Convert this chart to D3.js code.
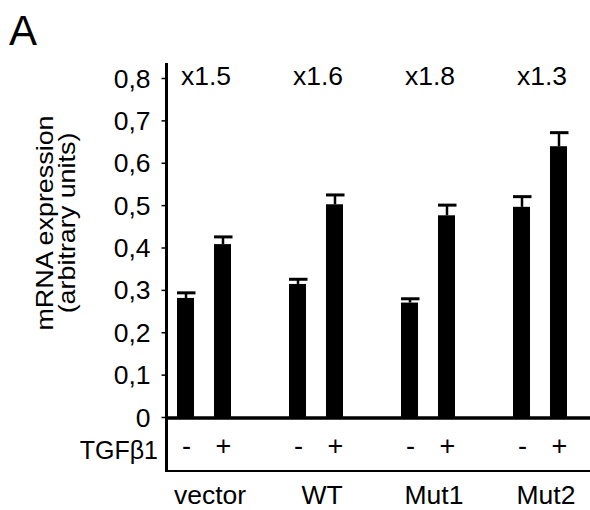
<!DOCTYPE html>
<html>
<head>
<meta charset="utf-8">
<script src="https://cdn.jsdelivr.net/npm/d3@7"></script>
<style>
  body { margin: 0; background: #fff; }
  svg { display: block; }
  text { font-family: "Liberation Sans", Arial, sans-serif; fill: #000; }
</style>
</head>
<body>
<svg id="chart" width="590" height="510"></svg>
<script>
/*
Data
*/
var groups = ["vector", "WT", "Mut1", "Mut2"];
var treatments = ["-", "+"];
var minusVals = [0.281, 0.314, 0.270, 0.496];
var plusVals = [0.408, 0.502, 0.476, 0.639];
var minusErr = [0.012, 0.011, 0.009, 0.024];
var plusErr = [0.017, 0.022, 0.024, 0.032];
var foldLabels = ["x1.5", "x1.6", "x1.8", "x1.3"];
var yTicks = [0, 0.1, 0.2, 0.3, 0.4, 0.5, 0.6, 0.7, 0.8];

/*
Layout
*/
var svg = d3.select("#chart");
var axisX = 166.5;
var zeroY = 417;
var tgfY = 471;
var fontSize = 25;

var y = d3.scaleLinear().domain([0, 0.8]).range([zeroY, 78]);
var xGroup = d3.scaleBand().domain(groups).range([148, 596]);
var xSub = d3.scalePoint().domain(treatments).range([37.5, 74.5]);
var barWidth = 17;

// widen glyphs a little, the source font runs wider than Liberation Sans
function widen(sel, k){
  sel.each(function(){
    var len = this.getComputedTextLength();
    d3.select(this).attr("textLength", len * k).attr("lengthAdjust", "spacingAndGlyphs");
  });
}

// rows of bars built from the arrays
var rows = [];
groups.forEach(function(g, i){
  rows.push({group: g, t: "-", value: minusVals[i], err: minusErr[i]});
  rows.push({group: g, t: "+", value: plusVals[i], err: plusErr[i]});
});
function cx(d){ return xGroup(d.group) + xSub(d.t); }

/*
Y axis
*/
var yAxis = d3.axisLeft(y)
  .tickValues(yTicks)
  .tickSize(5)
  .tickPadding(11)
  .tickFormat(function(d){ return d === 0 ? "0" : d3.format(".1f")(d).replace(".", ","); });

var ax = svg.append("g")
  .attr("transform", "translate(" + axisX + ",0)")
  .call(yAxis);
ax.select(".domain").remove();
ax.selectAll(".tick line").attr("stroke", "#000").attr("stroke-width", 1.5);
ax.selectAll(".tick text")
  .attr("font-size", fontSize)
  .attr("font-family", "Liberation Sans, Arial, sans-serif")
  .attr("dy", "0.36em")
  .call(widen, 1.06);

// axis lines
svg.append("line")
  .attr("x1", axisX).attr("x2", axisX)
  .attr("y1", 63).attr("y2", tgfY + 1)
  .attr("stroke", "#000").attr("stroke-width", 3);
svg.append("line")
  .attr("x1", axisX - 1.5).attr("x2", 590)
  .attr("y1", zeroY + 1).attr("y2", zeroY + 1)
  .attr("stroke", "#000").attr("stroke-width", 3.5);
svg.append("line")
  .attr("x1", axisX - 1.5).attr("x2", 590)
  .attr("y1", tgfY).attr("y2", tgfY)
  .attr("stroke", "#000").attr("stroke-width", 2);

/*
Bars and error bars
*/
svg.selectAll("rect.bar")
  .data(rows)
  .enter()
  .append("rect")
  .attr("class", "bar")
  .attr("x", function(d){ return cx(d) - barWidth / 2; })
  .attr("width", barWidth)
  .attr("y", function(d){ return y(d.value); })
  .attr("height", function(d){ return zeroY - y(d.value); })
  .attr("fill", "#000");

var err = svg.selectAll("g.err")
  .data(rows)
  .enter()
  .append("g")
  .attr("class", "err");
err.append("line")
  .attr("x1", function(d){ return cx(d) + 0.5; })
  .attr("x2", function(d){ return cx(d) + 0.5; })
  .attr("y1", function(d){ return y(d.value); })
  .attr("y2", function(d){ return y(d.value + d.err); })
  .attr("stroke", "#000").attr("stroke-width", 2.5);
err.append("line")
  .attr("x1", function(d){ return cx(d) - 8.5; })
  .attr("x2", function(d){ return cx(d) + 10; })
  .attr("y1", function(d){ return y(d.value + d.err); })
  .attr("y2", function(d){ return y(d.value + d.err); })
  .attr("stroke", "#000").attr("stroke-width", 3);

/*
Text
*/
svg.selectAll("text.fold")
  .data(foldLabels)
  .enter()
  .append("text")
  .attr("class", "fold")
  .attr("x", function(d, i){ return xGroup(groups[i]) + xGroup.bandwidth() / 2 + 2; })
  .attr("y", 85)
  .attr("text-anchor", "middle")
  .attr("font-size", fontSize)
  .text(function(d){ return d; })
  .call(widen, 1.06);

svg.selectAll("text.sign")
  .data(rows)
  .enter()
  .append("text")
  .attr("class", "sign")
  .attr("x", function(d){ return cx(d) + 1; })
  .attr("y", 455)
  .attr("text-anchor", "middle")
  .attr("font-size", 27)
  .text(function(d){ return d.t; });

svg.selectAll("text.group")
  .data(groups)
  .enter()
  .append("text")
  .attr("class", "group")
  .attr("x", function(d){ return xGroup(d) + xGroup.bandwidth() / 2 + 6; })
  .attr("y", 504)
  .attr("text-anchor", "middle")
  .attr("font-size", fontSize)
  .text(function(d){ return d; })
  .call(widen, 1.06);

svg.append("text")
  .attr("x", 158)
  .attr("y", 459)
  .attr("text-anchor", "end")
  .attr("font-size", fontSize)
  .text("TGFβ1");

svg.append("text")
  .attr("transform", "translate(53,223) rotate(-90)")
  .attr("text-anchor", "middle")
  .attr("font-size", 24)
  .text("mRNA expression")
  .call(widen, 1.12);
svg.append("text")
  .attr("transform", "translate(75,223) rotate(-90)")
  .attr("text-anchor", "middle")
  .attr("font-size", 24)
  .text("(arbitrary units)")
  .call(widen, 1.12);

svg.append("text")
  .attr("x", 9)
  .attr("y", 45)
  .attr("font-size", 42)
  .text("A");
</script>
</body>
</html>
